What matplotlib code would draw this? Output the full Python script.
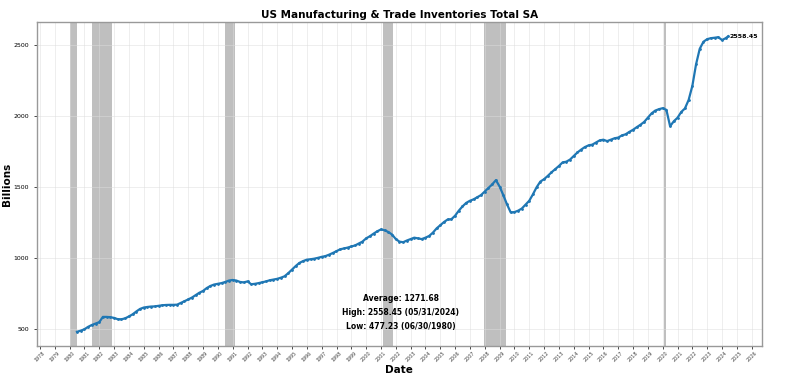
import pandas as pd
import matplotlib
matplotlib.use('Agg')
import matplotlib.pyplot as plt
import matplotlib.dates as mdates

# quarterly readings (end of quarter), 1980Q2 .. 2024Q1, plus the last May 2024 print
start_q = '1980-06-30'
values = [
    477.23, 485, 495,
    512, 525, 535, 545,
    582, 582, 580, 575,
    566, 565, 572, 585,
    600, 620, 638, 648,
    652, 655, 656, 660,
    664, 666, 667, 667,
    668, 680, 692, 705,
    718, 735, 752, 765,
    785, 800, 810, 815,
    820, 828, 838, 842,
    838, 828, 825, 832,
    812, 815, 820, 826,
    832, 840, 845, 850,
    858, 868, 890, 915,
    940, 962, 975, 985,
    988, 992, 998, 1005,
    1010, 1020, 1032, 1045,
    1058, 1064, 1070, 1078,
    1085, 1098, 1112, 1135,
    1150, 1168, 1185, 1198,
    1192, 1180, 1162, 1130,
    1112, 1108, 1120, 1130,
    1140, 1135, 1130, 1140,
    1152, 1175, 1205, 1228,
    1250, 1268, 1270, 1295,
    1330, 1360, 1385, 1400,
    1410, 1425, 1440, 1465,
    1490, 1515, 1545, 1500,
    1440, 1375, 1318, 1320,
    1330, 1345, 1372, 1400,
    1445, 1495, 1535, 1552,
    1575, 1600, 1622, 1645,
    1670, 1675, 1690, 1715,
    1740, 1760, 1778, 1790,
    1795, 1810, 1825, 1830,
    1820, 1830, 1840, 1845,
    1860, 1868, 1885, 1900,
    1918, 1935, 1955, 1985,
    2015, 2035, 2045, 2052,
    2040, 1925, 1960, 1985,
    2025, 2050, 2110, 2210,
    2360, 2470, 2520, 2538,
    2545, 2548, 2552, 2532,
    2545,
]
last_date = '2024-05-31'
last_value = 2558.45

recessions = [
    ('1980-01-01', '1980-07-01'),
    ('1981-07-01', '1982-11-01'),
    ('1990-07-01', '1991-03-01'),
    ('2001-03-01', '2001-11-01'),
    ('2007-12-01', '2009-06-01'),
    ('2020-02-01', '2020-04-01'),
]

avg_txt = 'Average: 1271.68'
high_txt = 'High: 2558.45 (05/31/2024)'
low_txt = 'Low: 477.23 (06/30/1980)'

dates = list(pd.date_range(start_q, periods=len(values), freq='QE'))
dates.append(pd.Timestamp(last_date))
vals = values + [last_value]

fig = plt.figure(figsize=(8, 3.87), dpi=100)
ax = fig.add_axes([0.046, 0.106, 0.906, 0.837])

for s, e in recessions:
    ax.axvspan(pd.Timestamp(s), pd.Timestamp(e), color='gray', alpha=0.5, lw=0)

ax.plot(dates, vals, color='#1f77b4', lw=1.6, marker='o', markersize=1.0)

ax.annotate(f'{last_value:.2f}', (dates[-1], vals[-1]), xytext=(1, 0),
            textcoords='offset points', fontsize=4.5, fontweight='bold',
            va='center', ha='left')

ax.set_xlim(pd.Timestamp('1977-10-15'), pd.Timestamp('2026-09-01'))
ax.set_ylim(377.23, 2658.45)
ax.set_yticks([500, 1000, 1500, 2000, 2500])

ax.xaxis.set_major_locator(mdates.YearLocator())
ax.xaxis.set_major_formatter(mdates.DateFormatter('%Y'))
plt.setp(ax.get_xticklabels(), rotation=45, fontsize=3.5, color='#444444')
ax.tick_params(axis='y', labelsize=4.5, length=2, width=0.5)
ax.tick_params(axis='x', length=2, width=0.5, pad=1)

ax.grid(True, color='#dddddd', lw=0.5, alpha=0.7)
for sp in ax.spines.values():
    sp.set_color('#999999')
    sp.set_linewidth(1)

ax.set_title('US Manufacturing & Trade Inventories Total SA', fontsize=7.5,
             fontweight='bold', pad=3)
ax.set_xlabel('Date', fontsize=7.5, fontweight='bold', labelpad=2)
ax.set_ylabel('Billions', fontsize=7.5, fontweight='bold')
ax.yaxis.set_label_coords(-0.034, 0.5)

ax.text(0.502, 0.148, avg_txt, transform=ax.transAxes, ha='center', va='center',
        fontsize=5.5, fontweight='bold')
ax.text(0.502, 0.102, high_txt, transform=ax.transAxes, ha='center', va='center',
        fontsize=5.5, fontweight='bold')
ax.text(0.502, 0.059, low_txt, transform=ax.transAxes, ha='center', va='center',
        fontsize=5.5, fontweight='bold')

fig.savefig('out.png', dpi=100)
